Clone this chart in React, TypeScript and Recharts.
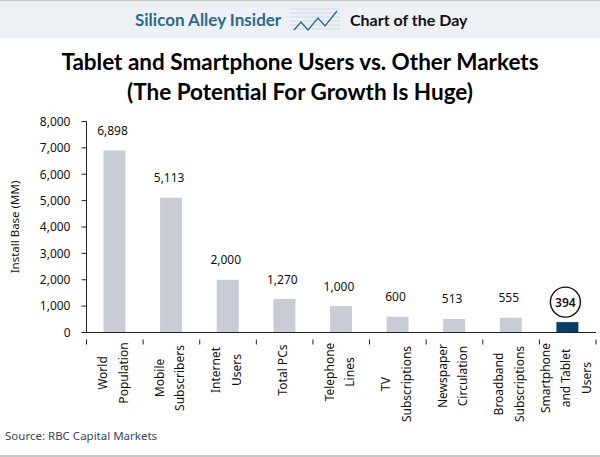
import { BarChart, Bar, Cell, XAxis, YAxis, LabelList } from 'recharts'

const CATEGORIES = [
  'World|Population',
  'Mobile|Subscribers',
  'Internet|Users',
  'Total PCs',
  'Telephone|Lines',
  'TV|Subscriptions',
  'Newspaper|Circulation',
  'Broadband|Subscriptions',
  'Smartphone|and Tablet|Users',
]
const VALUES = [6898, 5113, 2000, 1270, 1000, 600, 513, 555, 394]
const Y_TICKS = [0, 1000, 2000, 3000, 4000, 5000, 6000, 7000, 8000]

const data = CATEGORIES.map((name, i) => ({ name, value: VALUES[i] }))

const GREY = '#c8ccd4'
const NAVY = '#0d3d62'
const AXIS = '#222'
const FONT = '"Noto Sans", sans-serif'
const BAND = 56.6
// vertical middle of each rotated tick label
const TICK_MIDDLE = [373, 378, 370, 370, 372, 384, 376, 384, 378]

function CategoryTick({ x, y, payload, index }: any) {
  const lines = String(payload.value).split('|')
  const mid = x - 2
  const first = mid - ((lines.length - 1) * 20.5) / 2
  const left = x - BAND / 2
  return (
    <g>
      <line x1={left} x2={left} y1={y - 1} y2={y + 4} stroke={AXIS} />
      {index === CATEGORIES.length - 1 && (
        <line x1={left + BAND} x2={left + BAND} y1={y - 1} y2={y + 4} stroke={AXIS} />
      )}
      {lines.map((line, j) => {
        const lx = first + j * 20.5
        const ly = TICK_MIDDLE[index]
        return (
          <text
            key={j}
            x={lx}
            y={ly}
            transform={`rotate(-90 ${lx} ${ly})`}
            textAnchor="middle"
            dominantBaseline="central"
            fontSize={12}
            fontFamily={FONT}
            fill="#111"
          >
            {line}
          </text>
        )
      })}
    </g>
  )
}

function ValueLabel({ x, y, width, value, index }: any) {
  const cx = x + width / 2 - 2
  const cy = y - 20
  const last = index === VALUES.length - 1
  return (
    <g>
      {last && <circle cx={cx} cy={cy} r={15} fill="#fff" stroke="#111" strokeWidth={1.4} />}
      <text
        x={cx}
        y={cy}
        textAnchor="middle"
        dominantBaseline="central"
        fontSize={12}
        fontWeight={last ? 600 : 400}
        fontFamily={FONT}
        fill="#111"
      >
        {Number(value).toLocaleString('en-US')}
      </text>
    </g>
  )
}

export default function App() {
  return (
    <div style={{ position: 'absolute', left: 0, top: 0, width: 600, height: 457, background: '#fff', overflow: 'hidden' }}>
      <div style={{ position: 'absolute', left: 0, top: 0, width: 600, height: 38, background: '#edf0f4', borderTop: '1px solid #c8c8c8', boxSizing: 'border-box' }} />
      <div style={{ position: 'absolute', left: 135, top: 9, fontFamily: 'Lato, sans-serif', fontWeight: 700, fontSize: 17, color: '#2b6a8c', whiteSpace: 'nowrap' }}>
        Silicon Alley Insider
      </div>
      <svg style={{ position: 'absolute', left: 290, top: 7 }} width={50} height={25}>
        {[2, 6, 10, 14, 18, 22].map((gy) => (
          <line key={gy} x1={0} x2={50} y1={gy} y2={gy} stroke="#cfdbe6" />
        ))}
        <polyline points="4,23 11,15 18,23 28,11 35,19 47,4" fill="none" stroke="#2b6a8c" strokeWidth={1.3} />
      </svg>
      <div style={{ position: 'absolute', left: 350, top: 10, fontFamily: 'Lato, sans-serif', fontWeight: 700, fontSize: 16, color: '#111', whiteSpace: 'nowrap' }}>
        Chart of the Day
      </div>
      <div style={{ position: 'absolute', left: 0, top: 47, width: 600, textAlign: 'center', fontFamily: 'Lato, sans-serif', fontWeight: 700, fontSize: 22.5, lineHeight: '29.5px', color: '#000' }}>
        Tablet and Smartphone Users vs. Other Markets
        <br />
        (The Potential For Growth Is Huge)
      </div>

      <div style={{ position: 'absolute', left: 0, top: 0 }}>
        <BarChart
          width={600}
          height={457}
          data={data}
          margin={{ top: 121.5, right: 4, bottom: 123.5, left: 0 }}
          barCategoryGap={17}
        >
          <XAxis
            dataKey="name"
            interval={0}
            tickLine={false}
            axisLine={{ stroke: AXIS }}
            tick={CategoryTick}
            height={1}
          />
          <XAxis xAxisId="top" orientation="top" dataKey="name" tick={false} tickLine={false} axisLine={{ stroke: AXIS }} height={0} />
          <YAxis
            width={86.5}
            domain={[0, 8000]}
            ticks={Y_TICKS}
            interval={0}
            tickSize={5}
            tickMargin={11}
            tickLine={{ stroke: AXIS }}
            axisLine={{ stroke: AXIS }}
            tickFormatter={(v: number) => v.toLocaleString('en-US')}
            tick={{ fontSize: 12, fontFamily: FONT, fill: '#111' }}
            label={{ value: 'Install Base (MM)', angle: -90, position: 'insideLeft', offset: 15, style: { fontSize: 11.5, fontFamily: FONT, fill: '#111', textAnchor: 'middle' } }}
          />
          <YAxis yAxisId="right" orientation="right" width={0} tick={false} tickLine={false} axisLine={{ stroke: AXIS }} />
          <Bar dataKey="value" isAnimationActive={false} barSize={22}>
            {data.map((_, i) => (
              <Cell key={i} fill={i === VALUES.length - 1 ? NAVY : GREY} />
            ))}
            <LabelList dataKey="value" content={ValueLabel} />
          </Bar>
        </BarChart>
      </div>

      <div style={{ position: 'absolute', left: 5, top: 428, fontFamily: FONT, fontSize: 11.5, color: '#3a4668', whiteSpace: 'nowrap' }}>
        Source: RBC Capital Markets
      </div>
      <div style={{ position: 'absolute', left: 0, top: 455, width: 600, height: 2, background: '#c8c8c8' }} />
    </div>
  )
}
